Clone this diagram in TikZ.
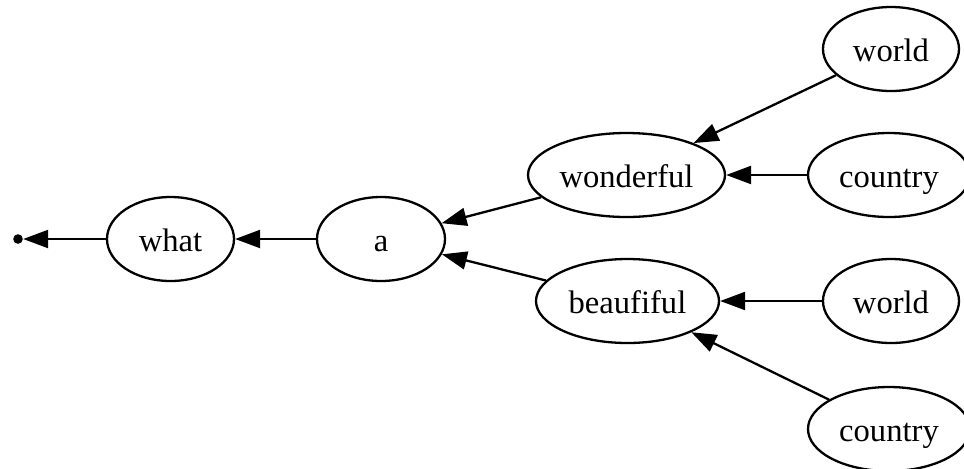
\documentclass[tikz,border=0pt]{standalone}
\usepackage{fontspec}
\setmainfont{Liberation Serif}
\usetikzlibrary{shapes.geometric,arrows.meta}
\begin{document}
\begin{tikzpicture}[x=0.5pt,y=-0.5pt,
  gnode/.style={draw,ellipse,line width=1.15pt,inner sep=0pt,minimum height=42pt,
    text height=15pt,text depth=2.5pt,font=\fontsize{16.3}{19}\selectfont},
  pnode/.style={circle,fill,inner sep=0pt,minimum size=4.8pt},
  garrow/.style={line width=1.15pt,-{Triangle[length=12.5pt,width=9pt]}}]
\useasboundingbox (0,0) rectangle (964,468);
\node[pnode] (p) at (18,239) {};
\node[gnode,minimum width=63.5pt] (what) at (170.5,239) {what};
\node[gnode,minimum width=64pt] (a) at (381,239) {a};
\node[gnode,minimum width=98.5pt] (wonderful) at (626.5,175) {wonderful};
\node[gnode,minimum width=91.5pt] (beaufiful) at (627.5,301) {beaufiful};
\node[gnode,minimum width=68pt] (world1) at (891,49) {world};
\node[gnode,minimum width=81pt] (country1) at (889,175) {country};
\node[gnode,minimum width=68pt] (world2) at (891,301) {world};
\node[gnode,minimum width=81pt] (country2) at (889,429) {country};
\draw[garrow] (what) -- (p);
\draw[garrow] (a) -- (what);
\draw[garrow] (wonderful) -- (a);
\draw[garrow] (beaufiful) -- (a);
\draw[garrow] (world1) -- (wonderful);
\draw[garrow] (country1) -- (wonderful);
\draw[garrow] (world2) -- (beaufiful);
\draw[garrow] (country2) -- (beaufiful);
\end{tikzpicture}
\end{document}
